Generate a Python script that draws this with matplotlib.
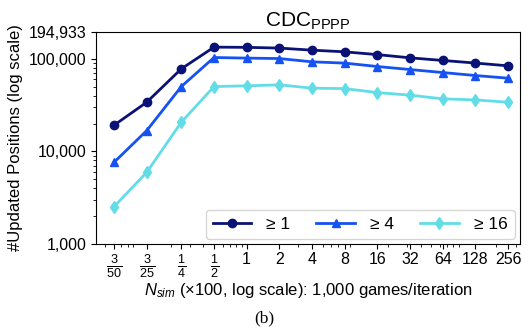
import numpy as np
import matplotlib
matplotlib.use("Agg")
import matplotlib.pyplot as plt
from matplotlib.ticker import FixedLocator, FixedFormatter, LogLocator, NullFormatter

plt.rcParams['font.family'] = ['Liberation Sans', 'DejaVu Sans']
plt.rcParams['mathtext.fontset'] = 'custom'
plt.rcParams['mathtext.rm'] = 'Liberation Sans'
plt.rcParams['mathtext.it'] = 'Liberation Sans:italic'

# ---- data ----
n_sim = [3/50, 3/25, 1/4, 1/2, 1, 2, 4, 8, 16, 32, 64, 128, 256]
tick_labels = [r"$\frac{3}{50}$", r"$\frac{3}{25}$", r"$\frac{1}{4}$", r"$\frac{1}{2}$",
               "1", "2", "4", "8", "16", "32", "64", "128", "256"]

ge1 = [19200, 34000, 78000, 133700, 133000, 130600, 124000, 119000,
       111000, 102500, 96000, 90000, 84000]
ge4 = [7640, 16800, 50200, 103300, 101800, 100700, 92800, 89900,
       82600, 76600, 71100, 66000, 61800]
ge16 = [2530, 5960, 20700, 50200, 51100, 52400, 48200, 47700,
        43200, 40500, 37000, 36000, 34000]

series = [
    (ge1, "≥ 1", "#0b1275", "o"),
    (ge4, "≥ 4", "#1652f2", "^"),
    (ge16, "≥ 16", "#62dde8", "d"),
]

fig = plt.figure(figsize=(5.28, 3.33), dpi=100)
ax = fig.add_axes([0.182, 0.267, 0.803, 0.637])

for vals, lab, col, mk in series:
    ax.plot(n_sim, vals, color=col, marker=mk, markersize=6, linewidth=2, label=lab)

ax.set_xscale("log")
ax.set_yscale("log")
ax.set_xlim(0.041, 330)
ax.set_ylim(1000, 194933)

ax.xaxis.set_major_locator(FixedLocator(n_sim))
ax.xaxis.set_major_formatter(FixedFormatter(tick_labels))
ax.xaxis.set_minor_locator(LogLocator(base=10, subs=np.arange(2, 10)))
ax.xaxis.set_minor_formatter(NullFormatter())

yt = [1000, 10000, 100000, 194933]
ax.yaxis.set_major_locator(FixedLocator(yt))
ax.yaxis.set_major_formatter(FixedFormatter(["1,000", "10,000", "100,000", "194,933"]))
ax.yaxis.set_minor_locator(LogLocator(base=10, subs=np.arange(2, 10)))
ax.yaxis.set_minor_formatter(NullFormatter())

ax.tick_params(axis="both", which="major", labelsize=11.5)
ax.tick_params(axis="x", which="major", pad=2)
# fraction labels a bit larger, as in the reference
for lbl in ax.get_xticklabels()[:4]:
    lbl.set_fontsize(13)

ax.set_xlabel(r"$N_{sim}$ ($\times$100, log scale): 1,000 games/iteration", fontsize=12)
ax.xaxis.set_label_coords(0.5, -0.172)
ax.set_ylabel("#Updated Positions (log scale)", fontsize=12)
ax.set_title(r"CDC$_{\mathrm{PPPP}}$", fontsize=15, pad=4)

ax.legend(loc="lower right", ncol=3, fontsize=12.5, handlelength=2.2,
          handletextpad=0.9, columnspacing=1.5, borderaxespad=0.3)

fig.text(0.5, 0.045, "(b)", ha="center", va="center", fontsize=12.5,
         family="Liberation Serif")

fig.savefig("out.png", dpi=100)
